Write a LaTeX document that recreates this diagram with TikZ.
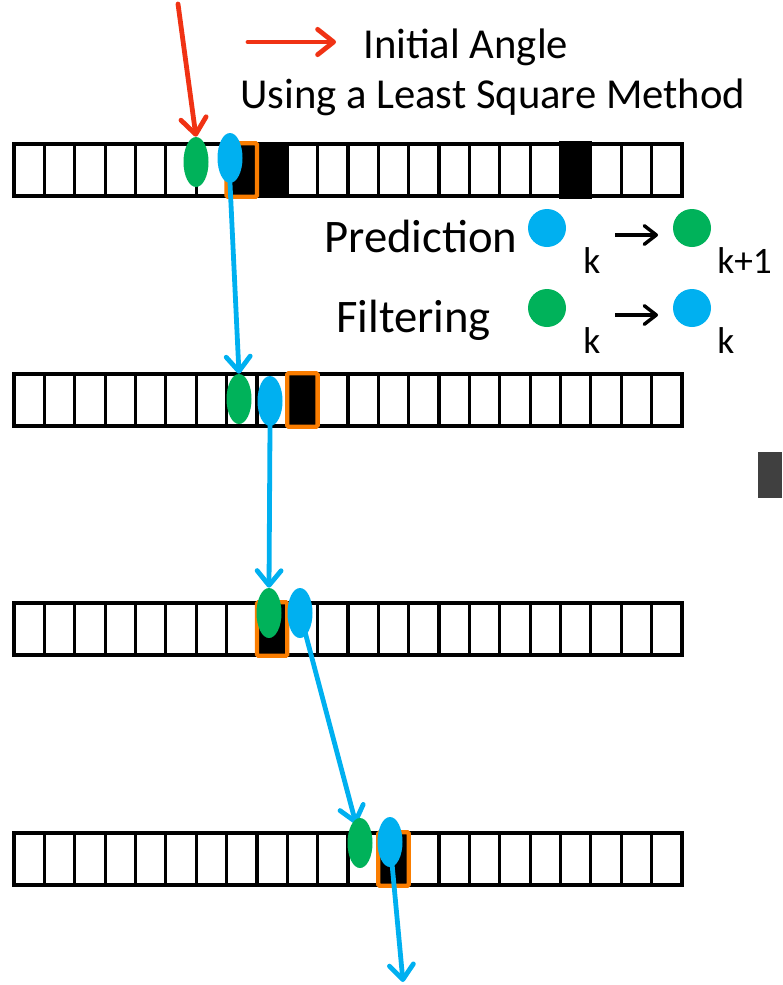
\documentclass[tikz,border=0pt]{standalone}
\usepackage{fontspec}
\setmainfont{Carlito}
\usetikzlibrary{arrows.meta,shapes.geometric}
\definecolor{cblue}{RGB}{0,176,240}
\definecolor{cgreen}{RGB}{0,178,90}
\definecolor{corange}{RGB}{250,125,0}
\definecolor{cred}{RGB}{240,50,20}
\definecolor{cgray}{RGB}{64,64,64}
\begin{document}
\begin{tikzpicture}[x=0.75pt,y=-0.75pt,
  cell/.style={draw=black, line width=2.4pt, minimum width=22.77pt, minimum height=39pt, inner sep=0pt, fill=white},
  full/.style={cell, fill=black},
  hit/.style={draw=corange, line width=3.2pt, rounded corners=1pt, minimum width=22.77pt, minimum height=40pt, inner sep=0pt, fill=black},
  gdot/.style={ellipse, fill=cgreen, minimum width=18.75pt, minimum height=37.5pt, inner sep=0pt},
  bdot/.style={ellipse, fill=cblue, minimum width=18.75pt, minimum height=37.5pt, inner sep=0pt},
  lgdot/.style={circle, fill=cgreen, minimum size=28.5pt, inner sep=0pt},
  lbdot/.style={circle, fill=cblue, minimum size=28.5pt, inner sep=0pt},
  flow/.style={draw=cblue, line width=3.6pt, line cap=round, -{Straight Barb[length=11pt,width=18pt,round]}},
  redflow/.style={draw=cred, line width=3.6pt, line cap=round, -{Straight Barb[length=12pt,width=19pt,round]}},
  larrow/.style={draw=black, line width=2.6pt, -{Straight Barb[length=9pt,width=14pt,round]}},
  title/.style={anchor=base west, inner sep=0pt, font=\fontsize{32}{36}\selectfont},
  leg/.style={anchor=base west, inner sep=0pt, font=\fontsize{35}{40}\selectfont},
  sub/.style={anchor=base west, inner sep=0pt, font=\fontsize{28}{32}\selectfont}
]
\useasboundingbox (0,0) rectangle (782,985);

% rows of cells
\foreach \r/\y in {1/170,2/400,3/629,4/859}{
  \foreach \i in {0,...,21}{
    \node[cell] (r\r c\i) at ({29.2+30.36*\i},\y) {};
  }
}
% black cells
\node[full] (b1a) at (r1c8.center) {};
\node[full, minimum height=40.5pt] (b1b) at (r1c18.center) {};
% orange highlighted cells
\node[hit] (h1) at (r1c7.center) {};
\node[hit] (h2) at (r2c9.center) {};
\node[hit] (h3) at (r3c8.center) {};
\node[hit] (h4) at (r4c12.center) {};

% ellipses
\node[gdot] (g1) at (196,162) {};
\node[bdot] (b1) at (230,158) {};
\node[gdot] (g2) at (239,399) {};
\node[bdot] (b2) at (270,401) {};
\node[gdot] (g3) at (269,613) {};
\node[bdot] (b3) at (300,613) {};
\node[bdot] (b4) at (390,842) {};

% connectors
\coordinate (g4top) at (356,824);
\coordinate (endp) at (403,982);
\draw[flow] (b1.south) -- (g2.north);
\draw[flow] (b2.south) -- (g3.north);
\draw[flow] (b3.center) -- (g4top);
\draw[flow] (b4.center) -- (endp);
\node[gdot] (g4) at (360,843) {};

% red arrows
\coordinate (rstart) at (178,4);
\draw[redflow] (rstart) -- (g1.north);
\coordinate (ra) at (248,42);
\coordinate (rb) at (336,42);
\draw[redflow] (ra) -- (rb);

% title text
\node[title] (t1) at (363,58) {Initial Angle};
\node[title] (t2) at (240,108) {Using a Least Square Method};

% legend
\node[leg] (pred) at (324,252) {Prediction};
\node[leg] (filt) at (336,332) {Filtering};
\node[lbdot] (lb1) at (547,228) {};
\node[lgdot] (lg1) at (692,228) {};
\node[lgdot] (lg2) at (547,308) {};
\node[lbdot] (lb2) at (692,308) {};
\node[sub] (k1) at (583,273) {k};
\node[sub] (k2) at (717,273) {k+1};
\node[sub] (k3) at (583,353) {k};
\node[sub] (k4) at (717,353) {k};
\coordinate (a1s) at (615,235);
\coordinate (a1e) at (658,235);
\coordinate (a2s) at (615,315);
\coordinate (a2e) at (658,315);
\draw[larrow] (a1s) -- (a1e);
\draw[larrow] (a2s) -- (a2e);

% gray box at right edge
\fill[cgray] (758,452) rectangle (782,498);
\end{tikzpicture}
\end{document}
